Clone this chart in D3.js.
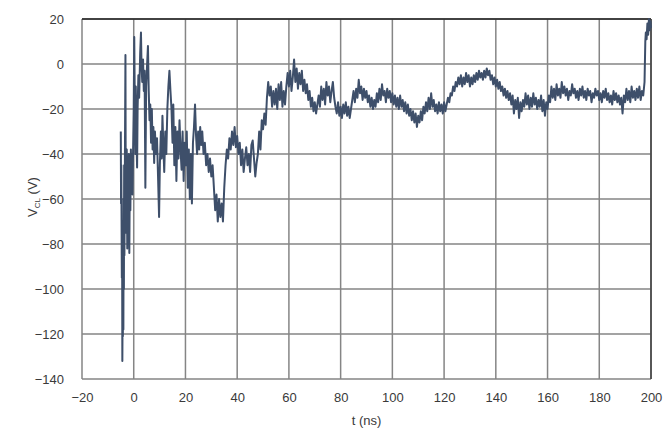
<!DOCTYPE html>
<html><head>
<meta charset="utf-8">
<script src="https://d3js.org/d3.v7.min.js"></script>
<style>
  body { margin: 0; background: #fff; }
  .tick text { font-family: "Liberation Sans", Arial, sans-serif; font-size: 13px; fill: #3a3a3a; }
  .title { font-family: "Liberation Sans", Arial, sans-serif; font-size: 13px; fill: #3a3a3a; }
</style>
</head>
<body>
<svg id="chart" width="671" height="429"></svg>
<script>
// axis ticks
let xTicks = [-20, 0, 20, 40, 60, 80, 100, 120, 140, 160, 180, 200];
let yTicks = [20, 0, -20, -40, -60, -80, -100, -120, -140];

// trace: [t (ns), V_CL (V)]
let trace = [
  [-5.0,-30],[-4.9,-62],[-4.8,-45],[-4.6,-95],[-4.5,-70],[-4.4,-132],[-4.3,-110],[-4.2,-121],[-4.1,-80],[-4.0,-118],
  [-3.9,-60],[-3.8,-100],[-3.7,-45],[-3.6,-85],[-3.4,-40],[-3.2,4],[-3.1,-50],[-2.9,-75],[-2.7,-38],[-2.5,-82],
  [-2.3,-45],[-2.1,-70],[-1.9,-40],[-1.7,-84],[-1.5,-48],[-1.3,-65],[-1.1,-38],[-0.9,-55],[-0.7,-40],[-0.5,-58],
  [-0.3,-42],[0,-20],[0.2,12],[0.4,-15],[0.6,-40],[0.8,-10],[1.0,-30],[1.3,-46],[1.5,-20],[1.8,-5],
  [2.1,-15],[2.5,5],[2.8,14],[3.0,0],[3.3,-8],[3.6,2],[3.9,-12],[4.2,-3],[4.5,-55],[4.8,-10],
  [5.1,-2],[5.5,8],[5.8,-12],[6.1,-25],[6.4,-18],[6.7,-35],[7.0,-20],[7.3,-38],[7.6,-28],[7.9,-44],
  [8.2,-30],[8.6,-40],[9.0,-33],[9.4,-50],[9.8,-68],[10.1,-45],[10.5,-30],[10.8,-42],[11.1,-23],[11.5,-38],
  [11.8,-48],[12.2,-30],[12.6,-40],[13.0,-20],[13.4,-10],[13.8,-3],[14.2,-12],[14.6,-20],[15.0,-35],[15.3,-18],
  [15.7,-45],[16.1,-28],[16.5,-52],[16.9,-30],[17.3,-42],[17.7,-25],[18.1,-38],[18.5,-47],[18.9,-30],[19.3,-52],
  [19.7,-35],[20.1,-45],[20.5,-30],[20.9,-55],[21.3,-38],[21.7,-60],[22.1,-40],[22.5,-62],[22.9,-35],[23.3,-28],
  [23.7,-18],[24.1,-32],[24.5,-40],[24.9,-30],[25.3,-38],[25.7,-28],[26.1,-36],[26.5,-30],[27.0,-40],[27.5,-35],
  [28.0,-45],[28.5,-40],[29.0,-48],[29.5,-42],[30.0,-50],[30.5,-45],[31.0,-55],[31.5,-65],[32.0,-58],[32.5,-70],
  [33.0,-60],[33.5,-68],[34.0,-62],[34.5,-70],[35.0,-55],[35.5,-45],[36.0,-38],[36.5,-42],[37.0,-33],[37.5,-38],
  [38.0,-30],[38.5,-36],[39.0,-28],[39.5,-37],[40.0,-32],[40.5,-40],[41.0,-35],[41.5,-45],[42.0,-38],[42.5,-48],
  [43.0,-42],[43.5,-37],[44.0,-45],[44.5,-40],[45.0,-48],[45.5,-36],[46.0,-34],[46.5,-42],[47.0,-50],[47.5,-44],
  [48.0,-40],[48.5,-30],[49.0,-38],[49.5,-25],[50.0,-29],[50.5,-22],[51.0,-27],[51.5,-15],[52.0,-8],[52.5,-14],
  [53.0,-10],[53.5,-19],[54.0,-12],[54.5,-18],[55.0,-11],[55.5,-20],[56.0,-9],[56.5,-16],[57.0,-8],[57.5,-19],
  [58.0,-12],[58.5,-18],[59.0,-10],[59.5,-4],[60.0,-10],[60.5,-3],[61.0,-12],[61.5,-6],[62.0,2],[62.5,-8],
  [63.0,-2],[63.5,-11],[64.0,-4],[64.5,-9],[65.0,-3],[65.5,-12],[66.0,-7],[66.5,-13],[67.0,-9],[67.5,-16],
  [68.0,-12],[68.5,-19],[69.0,-15],[69.5,-21],[70.0,-17],[70.5,-22],[71.0,-18],[71.5,-14],[72.0,-19],[72.5,-10],
  [73.0,-16],[73.5,-11],[74.0,-18],[74.5,-8],[75.0,-14],[75.5,-10],[76.0,-17],[76.5,-12],[77.0,-8],[77.5,-15],
  [78.0,-19],[78.5,-22],[79.0,-17],[79.5,-23],[80.0,-19],[80.5,-24],[81.0,-18],[81.5,-22],[82.0,-17],[82.5,-23],
  [83.0,-19],[83.5,-24],[84.0,-20],[84.5,-16],[85.0,-12],[85.5,-17],[86.0,-11],[86.5,-15],[87.0,-7],[87.5,-13],
  [88.0,-10],[88.5,-16],[89.0,-11],[89.5,-15],[90.0,-12],[90.5,-17],[91.0,-14],[91.5,-19],[92.0,-15],[92.5,-20],
  [93.0,-16],[93.5,-19],[94.0,-13],[94.5,-17],[95.0,-11],[95.5,-16],[96.0,-9],[96.5,-14],[97.0,-12],[97.5,-17],
  [98.0,-11],[98.5,-15],[99.0,-12],[99.5,-17],[100.0,-13],[100.5,-18],[101.0,-14],[101.5,-19],[102.0,-15],[102.5,-20],
  [103.0,-14],[103.5,-19],[104.0,-16],[104.5,-21],[105.0,-17],[105.5,-22],[106.0,-18],[106.5,-23],[107.0,-20],[107.5,-25],
  [108.0,-21],[108.5,-26],[109.0,-22],[109.5,-28],[110.0,-23],[110.5,-26],[111.0,-21],[111.5,-25],[112.0,-19],[112.5,-22],
  [113.0,-17],[113.5,-21],[114.0,-15],[114.5,-20],[115.0,-13],[115.5,-19],[116.0,-16],[116.5,-21],[117.0,-18],[117.5,-22],
  [118.0,-17],[118.5,-21],[119.0,-18],[119.5,-22],[120.0,-17],[120.5,-21],[121.0,-18],[121.5,-15],[122.0,-17],[122.5,-13],
  [123.0,-14],[123.5,-10],[124.0,-12],[124.5,-8],[125.0,-10],[125.5,-6],[126.0,-9],[126.5,-5],[127.0,-10],[127.5,-6],
  [128.0,-9],[128.5,-4],[129.0,-8],[129.5,-5],[130.0,-10],[130.5,-6],[131.0,-9],[131.5,-5],[132.0,-8],[132.5,-4],
  [133.0,-7],[133.5,-3],[134.0,-6],[134.5,-4],[135.0,-7],[135.5,-3],[136.0,-6],[136.5,-2],[137.0,-5],[137.5,-3],
  [138.0,-7],[138.5,-5],[139.0,-9],[139.5,-6],[140.0,-10],[140.5,-7],[141.0,-11],[141.5,-8],[142.0,-12],[142.5,-10],
  [143.0,-14],[143.5,-11],[144.0,-15],[144.5,-12],[145.0,-16],[145.5,-13],[146.0,-18],[146.5,-14],[147.0,-22],[147.5,-16],
  [148.0,-20],[148.5,-15],[149.0,-24],[149.5,-17],[150.0,-21],[150.5,-16],[151.0,-19],[151.5,-13],[152.0,-18],[152.5,-14],
  [153.0,-20],[153.5,-15],[154.0,-19],[154.5,-13],[155.0,-18],[155.5,-15],[156.0,-20],[156.5,-16],[157.0,-19],[157.5,-14],
  [158.0,-21],[158.5,-16],[159.0,-23],[159.5,-17],[160.0,-20],[160.5,-14],[161.0,-17],[161.5,-10],[162.0,-15],[162.5,-11],
  [163.0,-16],[163.5,-9],[164.0,-14],[164.5,-11],[165.0,-15],[165.5,-8],[166.0,-13],[166.5,-10],[167.0,-14],[167.5,-11],
  [168.0,-16],[168.5,-12],[169.0,-14],[169.5,-9],[170.0,-13],[170.5,-11],[171.0,-15],[171.5,-12],[172.0,-16],[172.5,-11],
  [173.0,-14],[173.5,-10],[174.0,-15],[174.5,-12],[175.0,-16],[175.5,-11],[176.0,-14],[176.5,-12],[177.0,-17],[177.5,-13],
  [178.0,-15],[178.5,-11],[179.0,-14],[179.5,-12],[180.0,-16],[180.5,-13],[181.0,-17],[181.5,-12],[182.0,-15],[182.5,-11],
  [183.0,-16],[183.5,-13],[184.0,-17],[184.5,-14],[185.0,-18],[185.5,-12],[186.0,-16],[186.5,-13],[187.0,-17],[187.5,-14],
  [188.0,-18],[188.5,-15],[189.0,-22],[189.5,-14],[190.0,-17],[190.5,-11],[191.0,-16],[191.5,-12],[192.0,-17],[192.5,-10],
  [193.0,-15],[193.5,-12],[194.0,-16],[194.5,-11],[195.0,-15],[195.5,-10],[196.0,-16],[196.5,-12],[197.0,-14],[197.5,-8],
  [197.8,10],[198.0,14],[198.3,11],[198.6,18],[198.9,13],[199.2,20],[199.5,15],[199.8,19],[200.0,16]
];

let svg = d3.select("#chart");
let margin = { left: 82, top: 19, right: 20, bottom: 50 };
let width = 671 - margin.left - margin.right;   // 569
let height = 429 - margin.top - margin.bottom;  // 360

let xScale = d3.scaleLinear().domain([-20, 200]).range([0, width]);
let yScale = d3.scaleLinear().domain([-140, 20]).range([height, 0]);

let plot = svg.append("g").attr("transform", `translate(${margin.left},${margin.top})`);

// grid
plot.append("g").selectAll("line.v").data(xTicks).join("line")
  .attr("x1", d => xScale(d)).attr("x2", d => xScale(d))
  .attr("y1", 0).attr("y2", height)
  .style("stroke", "#858585").style("stroke-width", 1.5);
plot.append("g").selectAll("line.h").data(yTicks).join("line")
  .attr("x1", 0).attr("x2", width)
  .attr("y1", d => yScale(d)).attr("y2", d => yScale(d))
  .style("stroke", "#858585").style("stroke-width", 1.5);

// top and right border are darker
plot.append("line").attr("x1", 0).attr("x2", width).attr("y1", 0).attr("y2", 0)
  .style("stroke", "#222").style("stroke-width", 1.6);
plot.append("line").attr("x1", width).attr("x2", width).attr("y1", 0).attr("y2", height)
  .style("stroke", "#444").style("stroke-width", 1.6);

// trace
let line = d3.line().x(d => xScale(d[0])).y(d => yScale(d[1]));
plot.append("path").datum(trace)
  .attr("d", line)
  .style("fill", "none")
  .style("stroke", "#3e4f6a")
  .style("stroke-width", 2)
  .style("stroke-linejoin", "round");

// axes (labels only)
let xAxis = plot.append("g").attr("transform", `translate(0,${height})`)
  .call(d3.axisBottom(xScale).tickValues(xTicks).tickSize(0).tickPadding(14));
let yAxis = plot.append("g")
  .call(d3.axisLeft(yScale).tickValues(yTicks).tickSize(0).tickPadding(18));
xAxis.select(".domain").remove();
yAxis.select(".domain").remove();

// titles
svg.append("text").attr("class", "title")
  .attr("x", margin.left + width / 2).attr("y", 425)
  .attr("text-anchor", "middle").text("t (ns)");

let yt = svg.append("text").attr("class", "title")
  .attr("transform", "translate(37,197) rotate(-90)")
  .attr("text-anchor", "middle");
yt.append("tspan").text("V");
yt.append("tspan").attr("dy", 3).style("font-size", "8px").text("CL");
yt.append("tspan").attr("dy", -3).text(" (V)");
</script>
</body>
</html>
